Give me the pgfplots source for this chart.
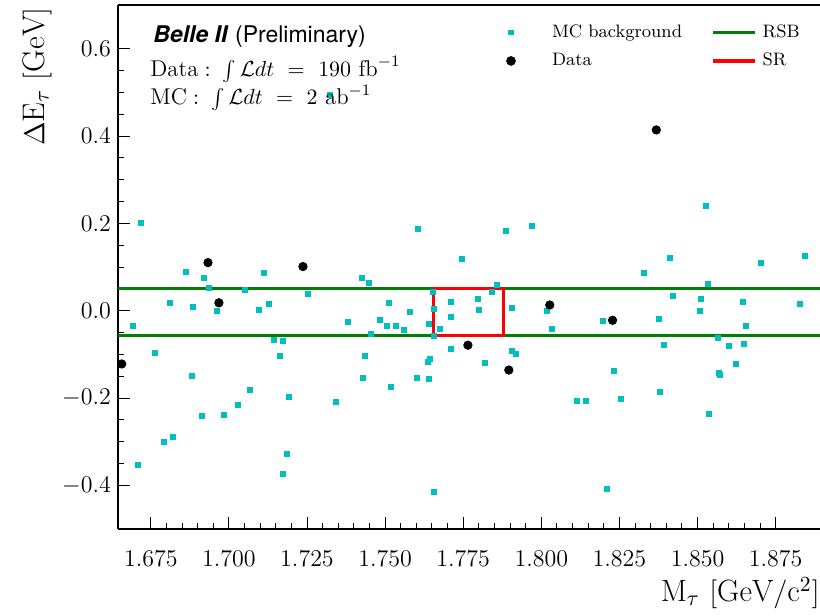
\documentclass[border=0pt]{standalone}
\usepackage{fontspec}
\usepackage{pgfplots}
\usepackage{pgfplotstable}
\pgfplotsset{compat=1.18}
\newfontfamily\heros{TeX Gyre Heros}
\definecolor{mccyan}{rgb}{0,0.75,0.75}
\definecolor{mplgreen}{rgb}{0,0.5,0}
\pgfplotsset{
  markimg/.style={legend image code/.code={\draw[mark repeat=2, mark phase=2, ##1, draw=none] plot coordinates {(0pt,0pt) (10.5pt,0pt) (21pt,0pt)};}},
  lineimg/.style={legend image code/.code={\draw[##1] (0pt,0pt) -- (21pt,0pt);}},
}

\pgfplotstableread{
x y
1.6718 0.200
1.6862 0.089
1.6921 0.074
1.6935 0.052
1.6811 0.018
1.6886 0.009
1.6960 -0.001
1.6694 -0.034
1.7051 0.047
1.7111 0.087
1.7095 0.002
1.7129 0.015
1.7145 -0.067
1.7173 -0.070
1.7163 -0.104
1.6764 -0.096
1.6881 -0.149
1.7253 0.039
1.7382 -0.025
1.7606 0.187
1.7886 0.182
1.7969 0.193
1.7745 0.118
1.7425 0.074
1.7448 0.063
1.7858 0.060
1.7843 0.044
1.7653 0.042
1.7512 0.017
1.7580 -0.002
1.7656 0.003
1.7712 0.021
1.7796 0.028
1.7800 0.001
1.7712 -0.014
1.7906 0.007
1.8018 0.000
1.8033 -0.041
1.7482 -0.022
1.7506 -0.034
1.7536 -0.034
1.7561 -0.044
1.7454 -0.053
1.7641 -0.030
1.7675 -0.041
1.7657 -0.057
1.7709 -0.088
1.7905 -0.091
1.7918 -0.098
1.7820 -0.120
1.7436 -0.104
1.7643 -0.110
1.7636 -0.118
1.7428 -0.154
1.7603 -0.153
1.7641 -0.157
1.8528 0.241
1.8410 0.121
1.8327 0.086
1.8704 0.109
1.8844 0.125
1.8532 0.062
1.8420 0.034
1.8512 0.028
1.8644 0.021
1.8828 0.016
1.8506 -0.001
1.8197 -0.024
1.8375 -0.019
1.8655 -0.035
1.8565 -0.063
1.8391 -0.079
1.8601 -0.080
1.8648 -0.077
1.8622 -0.123
1.8570 -0.146
1.8569 -0.142
1.8232 -0.139
1.6913 -0.242
1.6985 -0.239
1.7028 -0.215
1.7067 -0.182
1.7193 -0.197
1.6793 -0.301
1.6821 -0.290
1.6709 -0.354
1.7185 -0.328
1.7174 -0.374
1.6974 -0.502
1.7341 -0.209
1.7520 -0.174
1.8115 -0.206
1.8144 -0.206
1.8254 -0.202
1.8380 -0.187
1.8537 -0.236
1.7655 -0.414
1.8210 -0.409
1.7323 0.495
}\mctable

\pgfplotstableread{
x y
1.6933 0.110
1.6968 0.018
1.7237 0.101
1.6657 -0.122
1.8027 0.013
1.7765 -0.079
1.7896 -0.136
1.8228 -0.022
1.8368 0.414
}\datatable

\begin{document}
\begin{tikzpicture}
\begin{axis}[
  name=ax,
  scale only axis, width=351pt, height=262pt,
  xmin=1.6645, xmax=1.8892, ymin=-0.5, ymax=0.7,
  axis x line*=box, axis y line*=left,
  axis line style={-, line width=0.9pt, black},
  xtick={1.675,1.7,1.725,1.75,1.775,1.8,1.825,1.85,1.875},
  ytick={-0.4,-0.2,0,0.2,0.4,0.6},
  minor x tick num=4, minor y tick num=3,
  xtick pos=left, ytick pos=left,
  tick align=inside,
  major tick length=6pt, minor tick length=3pt,
  tick style={black, line width=0.5pt},
  xticklabel style={/pgf/number format/.cd, fixed, fixed zerofill, precision=3, /tikz/.cd, yshift=-7.5pt},
  yticklabel style={/pgf/number format/.cd, fixed, fixed zerofill, precision=1},
  tick label style={font=\fontsize{12.2}{14}\selectfont},
  xlabel={$\mathrm{M}_\tau\ [\mathrm{GeV/c^2}]$},
  ylabel={$\Delta\mathrm{E}_\tau\ [\mathrm{GeV}]$},
  xlabel style={at={([yshift=-36.3pt]rel axis cs:1,0)}, anchor=base east, inner sep=0pt, font=\fontsize{15.4}{18}\selectfont},
  ylabel style={at={([xshift=-33pt,yshift=-1pt]rel axis cs:0,1)}, anchor=south east, inner sep=0pt, font=\fontsize{15.6}{18}\selectfont},
  clip marker paths=true,
  legend columns=2,
  legend cell align=left,
  legend style={at={(rel axis cs:0,1)}, anchor=north west, xshift=186pt, yshift=-9.9pt,
    draw=none, fill=none, inner sep=0pt, outer sep=0pt,
    font=\fontsize{9}{11}\selectfont, row sep=6.3pt, nodes={inner sep=0pt},
    /tikz/column 1/.style={column sep=10pt},
    /tikz/column 2/.style={column sep=14.7pt},
    /tikz/column 3/.style={column sep=3pt}},
]
\addlegendimage{mark=square*, mark size=1.1pt, mccyan, markimg}
\addlegendentry{MC background}
\addlegendimage{mplgreen, line width=1.6pt, lineimg}
\addlegendentry{RSB}
\addlegendimage{mark=*, mark size=2.2pt, black, markimg}
\addlegendentry{Data}
\addlegendimage{red, line width=1.6pt, lineimg}
\addlegendentry{SR}

\addplot[mplgreen, line width=1.6pt, forget plot] coordinates {(1.6645,0.051) (1.8892,0.051)};
\addplot[mplgreen, line width=1.6pt, forget plot] coordinates {(1.6645,-0.057) (1.8892,-0.057)};
\addplot[red, line width=1.6pt, line join=miter, forget plot] coordinates {(1.7656,-0.057) (1.7879,-0.057) (1.7879,0.051) (1.7656,0.051) (1.7656,-0.057) (1.7879,-0.057)};
\addplot[only marks, mark=square*, mark size=1.25pt, mccyan, forget plot] table[x=x,y=y] {\mctable};
\addplot[only marks, mark=*, mark size=2.1pt, black, forget plot] table[x=x,y=y] {\datatable};

\node[anchor=base west, inner sep=0pt, font=\heros\fontsize{11.5}{14}\selectfont] at ([xshift=17.5pt,yshift=-18.5pt]rel axis cs:0,1) {\textbf{\textit{Belle II}} (Preliminary)};
\node[anchor=base west, inner sep=0pt, font=\fontsize{11.4}{13}\selectfont] at ([xshift=16pt,yshift=-35.8pt]rel axis cs:0,1) {$\mathrm{Data}:\;\int\mathcal{L}dt\ =\ 190\ \mathrm{fb}^{-1}$};
\node[anchor=base west, inner sep=0pt, font=\fontsize{11.4}{13}\selectfont] at ([xshift=16pt,yshift=-49.8pt]rel axis cs:0,1) {$\mathrm{MC}:\;\int\mathcal{L}dt\ =\ 2\ \mathrm{ab}^{-1}$};
\end{axis}
\pgfresetboundingbox
\path[use as bounding box] ([xshift=-59pt,yshift=-43pt]ax.south west) rectangle ([yshift=2.5pt]ax.north east);
\end{tikzpicture}
\end{document}
